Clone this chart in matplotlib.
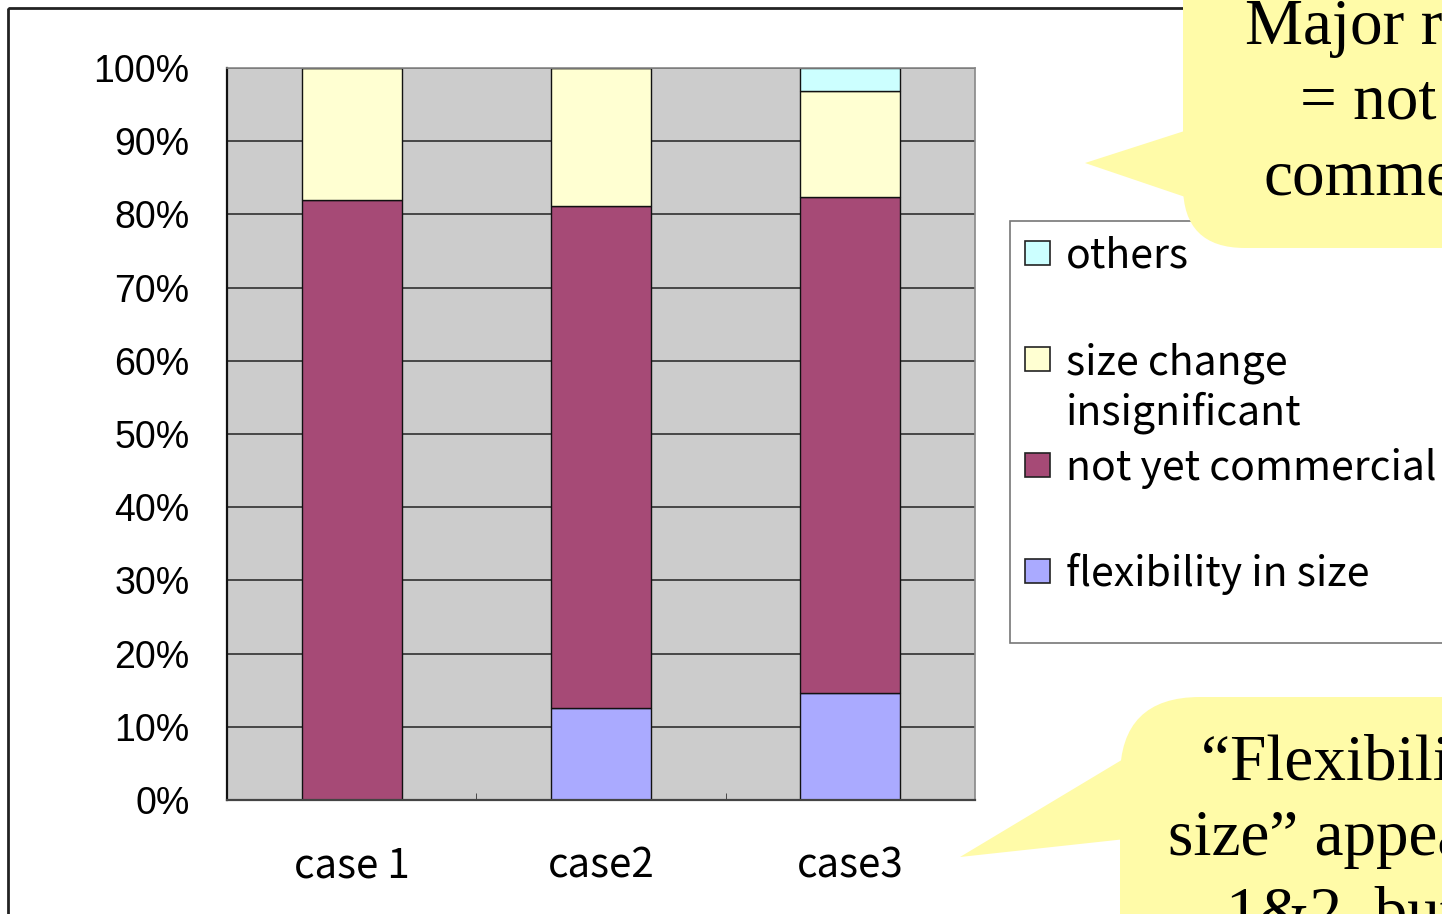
import matplotlib

matplotlib.use("Agg")
import matplotlib.pyplot as plt
from matplotlib.patches import FancyBboxPatch, Polygon, Rectangle
from matplotlib.transforms import Affine2D

W, H = 1442, 914

cases = ["case 1", "case2", "case3"]
flexibility = [0.0, 12.6, 14.6]
not_yet = [82.0, 68.5, 67.8]
size_change = [18.0, 18.9, 14.5]
others = [0.0, 0.0, 3.1]
y_ticks = [0, 10, 20, 30, 40, 50, 60, 70, 80, 90, 100]
y_labels = [f"{v}%" for v in y_ticks]

series = [
    ("flexibility in size", flexibility, "#AAAAFF"),
    ("not yet commercial", not_yet, "#A64A76"),
    ("size change\ninsignificant", size_change, "#FFFFD2"),
    ("others", others, "#CCFFFF"),
]

gothic = ["Noto Sans CJK JP", "DejaVu Sans"]
serif = ["Liberation Serif", "DejaVu Serif"]

fig = plt.figure(figsize=(W / 100, H / 100), dpi=100)
# pixel coordinates measured from the top-left corner
px = Affine2D().scale(1, -1).translate(0, H)

ax = fig.add_axes([227 / W, 1 - 800 / H, 748 / W, 732 / H])
ax.set_facecolor("#CCCCCC")
ax.set_axisbelow(True)
ax.yaxis.grid(True, color="#222222", lw=1.1)

x = range(1, len(cases) + 1)
bottom = [0.0] * len(cases)
for name, vals, color in series:
    ax.bar(x, vals, width=0.4, bottom=bottom, color=color,
           edgecolor="#111111", linewidth=1.0, zorder=2)
    bottom = [b + v for b, v in zip(bottom, vals)]

ax.set_xlim(0.5, 3.5)
ax.set_ylim(0, 100)
ax.set_yticks(y_ticks)
ax.set_yticklabels(y_labels, family=["Liberation Sans", "DejaVu Sans"], fontsize=27)
ax.set_xticks(list(x))
ax.set_xticklabels(cases, family=gothic, fontsize=29)
ax.set_xticks([1.5, 2.5], minor=True)
ax.tick_params(axis="x", which="major", length=0, pad=33)
ax.tick_params(axis="x", which="minor", direction="in", length=5, color="#333333")
ax.tick_params(axis="y", direction="in", length=0, pad=27)

ax.spines["left"].set_color("#111111")
ax.spines["left"].set_linewidth(1.6)
ax.spines["bottom"].set_color("#444444")
ax.spines["bottom"].set_linewidth(1.6)
for side in ("top", "right"):
    ax.spines[side].set_color("#888888")
    ax.spines[side].set_linewidth(1.2)

# outer frame
fig.add_artist(Rectangle((8, 8), 2000, 2000, transform=px, fill=False,
                         edgecolor="#222222", lw=2, zorder=1))

# legend box, entries listed top to bottom
fig.add_artist(Rectangle((1010, 221), 600, 422, transform=px, facecolor="white",
                         edgecolor="#777777", lw=1.2, zorder=2))
for i, (name, vals, color) in enumerate(reversed(series)):
    top = 241 + i * 106
    fig.add_artist(Rectangle((1025, top), 25, 24, transform=px, facecolor=color,
                             edgecolor="#222222", lw=1.2, zorder=3))
    for j, line in enumerate(name.split("\n")):
        fig.text(1066, top + 27 + j * 50, line, transform=px, family=gothic,
                 fontsize=29.5, va="baseline", ha="left", zorder=3)

# callouts
callout = "#FFFBA8"
fig.add_artist(FancyBboxPatch((1183, -250), 700, 498, transform=px,
                              boxstyle="round,pad=0,rounding_size=62",
                              facecolor=callout, edgecolor="none", zorder=4))
fig.add_artist(Polygon([(1085, 163), (1200, 126), (1200, 202)], closed=True,
                       transform=px, facecolor=callout, edgecolor="none", zorder=4))
fig.add_artist(FancyBboxPatch((1120, 697), 700, 500, transform=px,
                              boxstyle="round,pad=0,rounding_size=80",
                              facecolor=callout, edgecolor="none", zorder=4))
fig.add_artist(Polygon([(960, 857), (1135, 752), (1135, 838)], closed=True,
                       transform=px, facecolor=callout, edgecolor="none", zorder=4))

top_lines = [("Major reason", 1245, 44), ("= not yet", 1300, 119), ("commercial", 1264, 195)]
bottom_lines = [("\u201cFlexibility in", 1201, 780), ("size\u201d appears in", 1168, 855),
                ("1&2, but not in", 1226, 931)]
for txt, lx, ly in top_lines + bottom_lines:
    fig.text(lx, ly, txt, transform=px, family=serif, fontsize=47,
             va="baseline", ha="left", zorder=5)

fig.savefig("out.png", dpi=100)
